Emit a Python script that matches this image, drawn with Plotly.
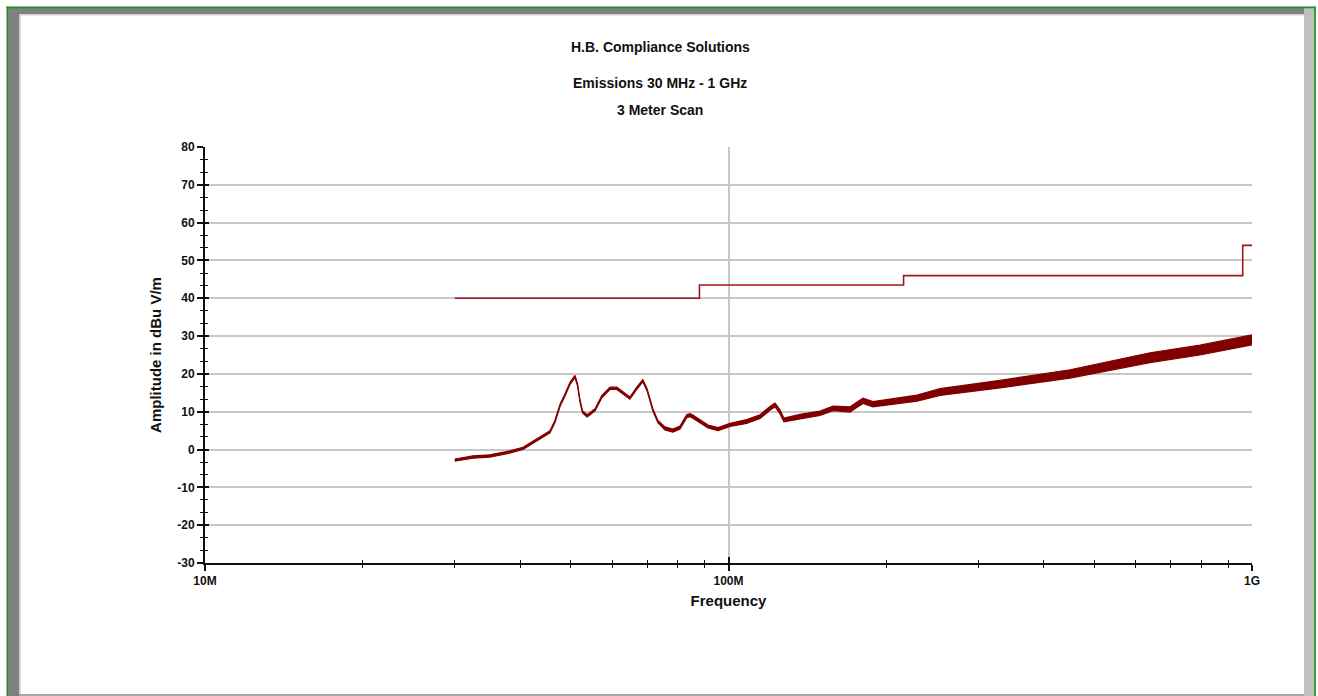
import plotly.graph_objects as go

# ---------------- data ----------------
emis_freq_mhz = [30.0, 31.0, 32.5, 35.0, 37.8, 40.5, 43.1, 45.6, 46.6, 47.7, 48.7, 49.8, 50.9,
                 51.5, 52.0, 52.6, 53.7, 55.6, 57.3, 59.4, 61.2, 62.9, 64.8, 66.8, 68.6, 69.9,
                 71.7, 73.3, 75.6, 78.3, 80.8, 83.2, 84.4, 85.5, 88.2, 89.4, 91.4, 95.5, 100.7,
                 108.3, 114.9, 120.0, 122.7, 125.4, 127.6, 137.0, 149.6, 158.4, 170.7, 175.8,
                 180.7, 188.8, 206.2, 229.2, 253.5, 330.2, 449.2, 638.6, 795.6, 1000.0]
emis_level = [-2.8, -2.4, -2.0, -1.7, -0.8, 0.3, 2.5, 4.7, 7.4, 11.8, 14.4, 17.5, 19.3,
              17.0, 13.1, 10.0, 8.9, 10.5, 14.0, 16.2, 16.2, 14.9, 13.6, 16.2, 18.2, 15.8,
              10.5, 7.4, 5.6, 5.0, 5.8, 8.8, 9.1, 8.7, 7.4, 6.9, 6.1, 5.4, 6.5,
              7.4, 8.7, 10.9, 11.8, 10.0, 7.8, 8.7, 9.6, 10.9, 10.6, 11.8,
              12.9, 12.0, 12.7, 13.6, 15.2, 17.3, 20.0, 24.3, 26.3, 29.0]
# half-width of the noise band around the trace (dB)
emis_spread = [0.3, 0.3, 0.3, 0.3, 0.3, 0.3, 0.3, 0.3, 0.3, 0.3, 0.3, 0.3, 0.3,
               0.3, 0.3, 0.3, 0.3, 0.3, 0.3, 0.3, 0.3, 0.3, 0.3, 0.3, 0.3, 0.3,
               0.3, 0.3, 0.4, 0.4, 0.4, 0.4, 0.4, 0.4, 0.4, 0.4, 0.4, 0.4, 0.4,
               0.5, 0.5, 0.5, 0.5, 0.5, 0.5, 0.6, 0.6, 0.6, 0.7, 0.7,
               0.7, 0.7, 0.8, 0.8, 0.9, 1.0, 1.1, 1.3, 1.3, 1.3]

limit_freq_mhz = [30, 88, 216, 960, 1000]
limit_level = [40, 43.5, 46, 54, 54]

x_tick_vals_hz = [1e7, 1e8, 1e9]
x_tick_text = ["10M", "100M", "1G"]
x_minor_vals_hz = [2e7, 3e7, 4e7, 5e7, 6e7, 7e7, 8e7, 9e7,
                   2e8, 3e8, 4e8, 5e8, 6e8, 7e8, 8e8, 9e8]
y_tick_vals = [-30, -20, -10, 0, 10, 20, 30, 40, 50, 60, 70, 80]
y_tick_text = ["-30", "-20", "-10", "0", "10", "20", "30", "40", "50", "60", "70", "80"]
y_range = [-30, 80]

title_lines = ["H.B. Compliance Solutions", "Emissions 30 MHz - 1 GHz", "3 Meter Scan"]
x_title = "Frequency"
y_title = "Amplitude in dBu V/m"

# ---------------- figure ----------------
W, H = 1318, 696
L, R, T, B = 205, 66, 147, 133
PW, PH = W - L - R, H - T - B

FONT = "Liberation Sans Narrow, Arial Narrow, Liberation Sans, Arial, sans-serif"
TRACE = "#800000"
LIMIT = "#a01818"

def px(xp):
    return (xp - L) / PW

def py(yp):
    return (H - B - yp) / PH

emis_hz = [f * 1e6 for f in emis_freq_mhz]
upper = [v + s for v, s in zip(emis_level, emis_spread)]
lower = [v - s for v, s in zip(emis_level, emis_spread)]

fig = go.Figure()
fig.add_trace(go.Scatter(x=[f * 1e6 for f in limit_freq_mhz], y=limit_level, mode="lines",
                         line=dict(color=LIMIT, width=1.6, shape="hv"), hoverinfo="skip"))
fig.add_trace(go.Scatter(x=emis_hz, y=lower, mode="lines",
                         line=dict(color=TRACE, width=1.2), hoverinfo="skip"))
fig.add_trace(go.Scatter(x=emis_hz, y=upper, mode="lines", fill="tonexty", fillcolor=TRACE,
                         line=dict(color=TRACE, width=1.2), hoverinfo="skip"))
# invisible trace for the overlay axes (inner halves of the crossing ticks)
fig.add_trace(go.Scatter(x=[f * 1e6 for f in limit_freq_mhz], y=limit_level, mode="lines",
                         line=dict(color="rgba(0,0,0,0)", width=0), xaxis="x2", yaxis="y2",
                         hoverinfo="skip"))

fig.update_layout(
    width=W, height=H, margin=dict(l=L, r=R, t=T, b=B),
    paper_bgcolor="white", plot_bgcolor="white", showlegend=False,
    font=dict(family=FONT, color="#111111"),
    xaxis=dict(type="log", range=[7, 9], tickvals=x_tick_vals_hz, ticktext=x_tick_text,
               showgrid=True, gridcolor="#c8c8c8", gridwidth=1.5,
               showline=True, linecolor="#111111", linewidth=2,
               ticks="outside", ticklen=6, tickcolor="#111111", tickwidth=1.5,
               minor=dict(tickvals=x_minor_vals_hz, ticks="outside", ticklen=3,
                          tickcolor="#111111", tickwidth=1.2, showgrid=False),
               tickfont=dict(family=FONT, size=12, color="#111111", weight="bold"),
               title=dict(text=x_title, standoff=8,
                          font=dict(family=FONT, size=15, color="#111111", weight="bold")),
               zeroline=False, fixedrange=True),
    yaxis=dict(range=y_range, tickvals=y_tick_vals, ticktext=y_tick_text,
               showgrid=True, gridcolor="#c8c8c8", gridwidth=1.5,
               showline=True, linecolor="#111111", linewidth=2,
               ticks="outside", ticklen=6, tickcolor="#111111", tickwidth=1.5,
               minor=dict(dtick=10 / 3, tick0=-30, ticks="outside", ticklen=3,
                          tickcolor="#111111", tickwidth=1.2, showgrid=False),
               tickfont=dict(family=FONT, size=12, color="#111111", weight="bold"),
               title=dict(text=y_title, standoff=12,
                          font=dict(family=FONT, size=15, color="#111111", weight="bold")),
               zeroline=False, fixedrange=True),
    xaxis2=dict(type="log", range=[7, 9], overlaying="x", anchor="y2", side="bottom",
                tickvals=x_tick_vals_hz, showticklabels=False, showgrid=False, showline=False,
                ticks="inside", ticklen=6, tickcolor="#111111", tickwidth=1.5,
                minor=dict(tickvals=x_minor_vals_hz, ticks="inside", ticklen=3,
                           tickcolor="#111111", tickwidth=1.2, showgrid=False),
                zeroline=False, fixedrange=True),
    yaxis2=dict(range=y_range, tickvals=y_tick_vals, overlaying="y", anchor="x2", side="left",
                showticklabels=False, showgrid=False, showline=False,
                ticks="inside", ticklen=4, tickcolor="#111111", tickwidth=1.5,
                minor=dict(dtick=10 / 3, tick0=-30, ticks="inside", ticklen=3,
                           tickcolor="#111111", tickwidth=1.2, showgrid=False),
                zeroline=False, fixedrange=True),
)

# titles
for text, yp in zip(title_lines, [47, 83, 110]):
    fig.add_annotation(text=f"<b>{text}</b>", xref="paper", yref="paper", x=px(660), y=py(yp),
                       xanchor="center", yanchor="middle", showarrow=False,
                       font=dict(family=FONT, size=14, color="#111111"))

# window frame decoration
frame = [
    dict(type="rect", x0=px(8), x1=px(19), y0=py(8), y1=py(H + 2), fillcolor="#808080"),
    dict(type="rect", x0=px(8), x1=px(1304), y0=py(8), y1=py(14), fillcolor="#808080"),
    dict(type="rect", x0=px(1304), x1=px(1314), y0=py(8), y1=py(H + 2), fillcolor="#c0c0c0"),
    dict(type="rect", x0=px(19), x1=px(1304), y0=py(14), y1=py(15.5), fillcolor="#d0d0d0"),
    dict(type="rect", x0=px(19), x1=px(20.5), y0=py(14), y1=py(H + 2), fillcolor="#c8c8c8"),
    dict(type="rect", x0=px(19), x1=px(1304), y0=py(694), y1=py(H + 2), fillcolor="#a8a8a8"),
    dict(type="rect", x0=px(6.5), x1=px(8), y0=py(6.5), y1=py(H + 2), fillcolor="#228b22"),
    dict(type="rect", x0=px(6.5), x1=px(1316), y0=py(6.5), y1=py(8.2), fillcolor="#228b22"),
    dict(type="rect", x0=px(1314), x1=px(1316), y0=py(6.5), y1=py(H + 2), fillcolor="#32a032"),
]
for s in frame:
    fig.add_shape(xref="paper", yref="paper", line=dict(width=0), layer="above", **s)

fig.write_html("out.html", config={"displayModeBar": False},
               post_script="document.body.style.margin='0';document.body.style.overflow='hidden';")
